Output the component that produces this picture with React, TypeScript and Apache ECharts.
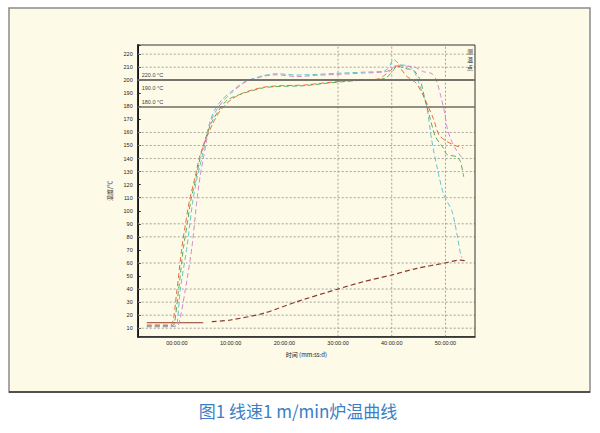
import React, { useEffect, useRef } from "react";
import * as echarts from "echarts";

// ---- data (time in minutes, temperature in °C) ----
const redSeries: number[][] = [
  [-5.6, 12.5], [-2, 12.5], [-0.93, 13], [0, 39], [0.93, 72], [1.6, 90], [2.35, 108], [3.4, 126],
  [4.21, 141], [5.3, 154], [6.7, 167], [8.1, 177], [10.06, 185], [12.4, 190.4], [16.1, 194.6],
  [19.2, 195.8], [23.6, 196.3], [28.5, 198.4], [33.5, 200.2], [37.2, 200.7], [38.4, 203],
  [39.6, 207], [41, 211], [42.8, 203], [44.5, 198], [45.9, 188], [47.8, 170], [48.8, 158],
  [50.3, 153], [51.8, 150], [53.3, 148],
];
const greenSeries: number[][] = [
  [-5.6, 11.8], [-1, 12], [-0.5, 13], [0.3, 39], [1.23, 72], [2.0, 92], [2.6, 108], [3.6, 126],
  [4.34, 141], [5.3, 155], [6.39, 167], [7.8, 177], [9.43, 185], [12.4, 190], [16.1, 194.2],
  [19.2, 195.3], [23.6, 195.8], [28.5, 198], [33.5, 199.7], [37.2, 200.2], [39, 202], [40.2, 207],
  [41, 211], [42.5, 209], [44.1, 207.5], [45.3, 200], [46.2, 185], [47.2, 170], [48.1, 157],
  [49.6, 148], [50.3, 143], [52.1, 141.4], [52.8, 137.6], [53.4, 126],
];
const cyanSeries: number[][] = [
  [-5.6, 11], [-0.5, 11.3], [0, 12.5], [0.61, 39], [1.86, 72], [2.98, 108], [3.8, 126],
  [4.66, 141], [6.07, 167], [7, 177], [8.38, 185], [10, 191], [12.7, 199], [16.1, 203.5],
  [18.6, 205], [22.3, 204], [26.1, 204.5], [29.8, 205.3], [34.7, 206.2], [38.5, 207], [39.5, 210],
  [40.3, 216], [41.6, 212], [43.1, 211], [44.1, 207.5], [45.3, 195], [46.5, 180], [47.4, 155],
  [48.5, 132], [49.7, 112], [51.2, 100], [52.1, 83], [52.8, 67], [53.1, 64],
];
const pinkSeries: number[][] = [
  [-5.6, 11.5], [-0.5, 11.5], [0.3, 12.5], [1.55, 39], [2.79, 72], [3.72, 108], [4.3, 126],
  [4.96, 141], [6.2, 167], [7.5, 178], [8.81, 185], [10.2, 190.5], [12.7, 198.5], [16.1, 203],
  [18.6, 204.2], [22.3, 202.8], [26.1, 203.8], [29.8, 204.5], [34.7, 205.5], [38.5, 206.3],
  [39.8, 208], [40.9, 211.7], [42.5, 210.8], [44.1, 210.4], [45.9, 206.6], [47.5, 205],
  [48.3, 200], [49, 190], [49.8, 176], [50.4, 162], [51.3, 152], [52.1, 146], [53.4, 139],
];
const brownSolid: number[][] = [[-5.6, 14.2], [4.9, 14.2]];
const brownDashed: number[][] = [
  [6.5, 15], [10, 16.3], [16.1, 21.4], [22.3, 30.3], [29.8, 39.8], [34.7, 45.6], [40, 50.8],
  [44.7, 55.9], [49.6, 59.7], [52.8, 62.2], [54, 61.5],
];

const hGridValues = [10, 20, 30, 40, 60, 80, 90, 110, 130, 140, 150, 160, 210, 220];
const vGridValues = [30, 40, 50];
const refLines = [
  { value: 200, text: "220.0 °C", pos: "insideStartTop", dy: 2 },
  { value: 200, text: "190.0 °C", pos: "insideStartBottom", dy: 5 },
  { value: 180, text: "180.0 °C", pos: "insideStartTop", dy: 2 },
];
const legendChars = ["测", "温", "点"];
const xRange = [-7.3, 55.5];
const yRange = [3.5, 227];

const pad = (n: number) => String(n).padStart(2, "0");

export default function App() {
  const ref = useRef<HTMLDivElement>(null);
  useEffect(() => {
    document.body.style.margin = "0";
    if (!ref.current) return;
    const chart = echarts.init(ref.current, undefined, { renderer: "svg" });
    const dash = [5, 3];
    const G = { left: 137.7, top: 45, right: 125, bottom: 96.3 };
    const mk = (name: string, data: number[][], color: string) => ({
      name,
      type: "line",
      data,
      showSymbol: false,
      smooth: 0.25,
      lineStyle: { color, width: 1, type: dash },
      itemStyle: { color },
      z: 3,
    });
    const gridStyle = { color: "#a3a39a", width: 1, type: [2, 2] };
    const gridSeries = [
      ...hGridValues.map((v) => ({
        type: "line",
        data: [[xRange[0], v], [xRange[1], v]],
        showSymbol: false,
        silent: true,
        lineStyle: gridStyle,
        z: 1,
      })),
      ...vGridValues.map((v) => ({
        type: "line",
        data: [[v, yRange[0]], [v, yRange[1]]],
        showSymbol: false,
        silent: true,
        lineStyle: gridStyle,
        z: 1,
      })),
    ];
    const option: any = {
      animation: false,
      backgroundColor: "#ffffff",
      textStyle: { fontFamily: "Liberation Sans, Noto Sans CJK SC, sans-serif" },
      grid: { ...G, show: false },
      xAxis: {
        type: "value",
        min: xRange[0],
        max: xRange[1],
        splitNumber: 6,
        name: "时间 (mm:ss:d)",
        nameLocation: "middle",
        nameGap: 13,
        nameTextStyle: { fontSize: 6, color: "#222", fontFamily: "Noto Sans CJK SC" },
        axisLine: { show: true, onZero: false, lineStyle: { color: "#222", width: 1.5 } },
        axisTick: { show: false },
        splitLine: { show: false },
        minorSplitLine: { show: false },
        splitArea: { show: false },
        axisLabel: {
          fontSize: 5.5,
          color: "#222",
          margin: 4,
          formatter: (v: number) =>
            Math.abs(v % 10) < 1e-6 && v >= 0 ? `${pad(v)}:00:00` : "",
        },
      },
      yAxis: {
        type: "value",
        min: yRange[0],
        max: yRange[1],
        splitNumber: 22,
        name: "温度/℃",
        nameLocation: "middle",
        nameRotate: 90,
        nameGap: 14,
        nameTextStyle: { fontSize: 6, color: "#333", fontFamily: "Noto Sans CJK SC" },
        axisLine: { show: true, onZero: false, lineStyle: { color: "#111", width: 2 } },
        axisTick: { show: true, inside: true, length: 3, lineStyle: { color: "#222" } },
        splitLine: { show: false },
        minorSplitLine: { show: false },
        splitArea: { show: false },
        axisLabel: {
          fontSize: 5.5,
          color: "#222",
          margin: 5,
          formatter: (v: number) => (Math.abs(v % 10) < 1e-6 ? String(v) : ""),
        },
      },
      series: [
        ...gridSeries,
        {
          name: "brown-start",
          type: "line",
          data: brownSolid,
          showSymbol: false,
          lineStyle: { color: "#8c3a2b", width: 1 },
          z: 3,
        },
        {
          name: "brown",
          type: "line",
          data: brownDashed,
          showSymbol: false,
          smooth: 0.25,
          lineStyle: { color: "#8c3a2b", width: 1.2, type: dash },
          z: 3,
          markLine: {
            silent: true,
            symbol: "none",
            lineStyle: { color: "#6c6c64", width: 1.5, type: "solid" },
            data: refLines.map((r) => ({
              yAxis: r.value,
              label: {
                show: true,
                formatter: r.text,
                position: r.pos,
                distance: [4, r.dy],
                fontSize: 5.5,
                color: "#444",
              },
            })),
          },
        },
        mk("cyan", cyanSeries, "#5cc6d2"),
        mk("pink", pinkSeries, "#cf8ad0"),
        mk("green", greenSeries, "#4fae55"),
        mk("red", redSeries, "#f0663a"),
      ],
      graphic: [
        {
          type: "rect",
          z: -10,
          shape: { x: 9, y: 8, width: 581, height: 384 },
          style: { fill: "#fefae8", stroke: "#8a8a8a", lineWidth: 1.5 },
        },
        {
          type: "line",
          z: -9,
          shape: { x1: 9, y1: 392, x2: 590, y2: 392 },
          style: { stroke: "#333", lineWidth: 1.5 },
        },
        {
          type: "rect",
          z: 5,
          silent: true,
          shape: {
            x: G.left,
            y: G.top,
            width: 600 - G.left - G.right,
            height: 433 - G.top - G.bottom,
          },
          style: { fill: "none", stroke: "#333", lineWidth: 1 },
        },
        ...legendChars.map((c, i) => ({
          type: "text",
          z: 10,
          x: 470,
          y: 48 + i * 8,
          style: {
            text: c,
            fontSize: 6,
            fill: "#333",
            align: "center",
            fontFamily: "Noto Sans CJK SC",
          },
        })),
        {
          type: "text",
          z: 10,
          x: 298,
          y: 410,
          style: {
            text: "图1 线速1 m/min炉温曲线",
            fontSize: 17,
            fill: "#3b7ec6",
            align: "center",
            verticalAlign: "middle",
            fontFamily: "Noto Sans CJK SC",
          },
        },
      ],
    };
    chart.setOption(option);
    return () => chart.dispose();
  }, []);
  return <div ref={ref} style={{ width: 600, height: 433 }} />;
}
